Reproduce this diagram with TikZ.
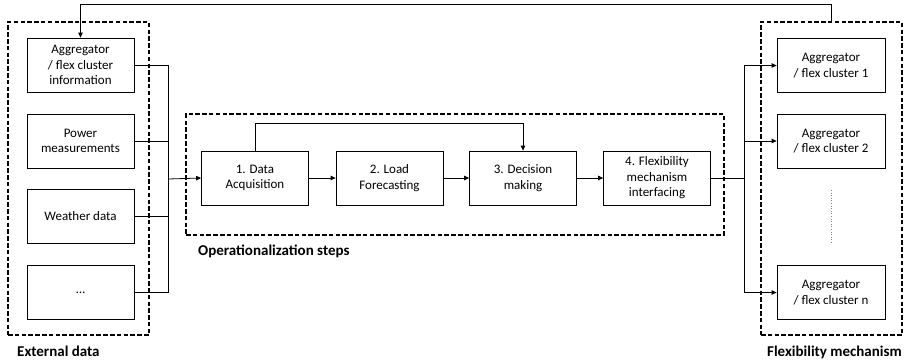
\documentclass[tikz,border=0pt]{standalone}
\usepackage{fontspec}
\setmainfont{Carlito}
\usetikzlibrary{arrows.meta}
\begin{document}
\begin{tikzpicture}[x=1pt,y=-1pt,
  boxn/.style={draw,line width=0.8pt,minimum width=107pt,minimum height=54pt,inner sep=0pt,align=center,
    font=\fontsize{13}{15.5}\selectfont},
  grp/.style={draw,line width=2.1pt,dash pattern=on 4.5pt off 2.3pt,inner sep=0pt},
  lbl/.style={font=\fontsize{15}{17}\selectfont\bfseries,inner sep=0pt},
  conn/.style={line width=0.8pt},
  arr/.style={line width=0.8pt,-{Triangle[length=5pt,width=4.5pt]}}]
\useasboundingbox (0,0) rectangle (910,360);
% group frames
\node[grp,minimum width=141pt,minimum height=313pt] (ed) at (78.5,178.5) {};
\node[grp,minimum width=538pt,minimum height=121pt] (ops) at (455,174.5) {};
\node[grp,minimum width=141pt,minimum height=313pt] (fm) at (831.5,178.5) {};
% labels
\node[lbl,anchor=base west] (edl) at (17,356) {External data};
\node[lbl,anchor=base west] (opl) at (198,255) {Operationalization steps};
\node[lbl,anchor=base east] (fml) at (902,356) {Flexibility mechanism};
% external data boxes
\node[boxn] (a1) at (80.5,65) {Aggregator\\/ flex cluster\\information};
\node[boxn] (a2) at (80.5,141) {Power\\measurements};
\node[boxn] (a3) at (80.5,216.5) {Weather data};
\node[boxn] (a4) at (80.5,292.5) {\dots};
% steps
\node[boxn] (s1) at (255,178) {1. Data\\Acquisition};
\node[boxn] (s2) at (389.5,178) {2. Load\\Forecasting};
\node[boxn] (s3) at (523,178) {3. Decision\\making};
\node[boxn] (s4) at (657,178) {4. Flexibility\\mechanism\\interfacing};
% flexibility mechanism boxes
\node[boxn,minimum width=108pt] (f1) at (831,65.5) {Aggregator\\/ flex cluster 1};
\node[boxn,minimum width=108pt] (f2) at (831,141) {Aggregator\\/ flex cluster 2};
\node[boxn,minimum width=108pt] (fn) at (831,292.5) {Aggregator\\/ flex cluster n};
\draw[gray,line width=0.6pt,dotted] (831,190) -- (831,243);
% bus coordinates
\coordinate (busL) at (168,179);
\coordinate (busR) at (744,178);
% left connectors
\draw[conn] (a1.east) -| (busL);
\draw[conn] (a2.east) -| (busL);
\draw[conn] (a3.east) -| (busL);
\draw[conn] (a4.east) -| (busL);
\draw[arr] (busL) -- (s1.west);
% step connectors
\draw[arr] (s1) -- (s2);
\draw[arr] (s2) -- (s3);
\draw[arr] (s3) -- (s4);
\draw[arr] (s1.north) -- ++(0,-27) -| (s3.north);
% right connectors
\draw[conn] (s4.east) -- (busR);
\draw[arr] (busR) |- (f1.west);
\draw[arr] (busR) |- (f2.west);
\draw[arr] (busR) |- (fn.west);
% feedback
\draw[arr] (fm.north) -- ++(0,-17) -| (a1.north);
\end{tikzpicture}
\end{document}
